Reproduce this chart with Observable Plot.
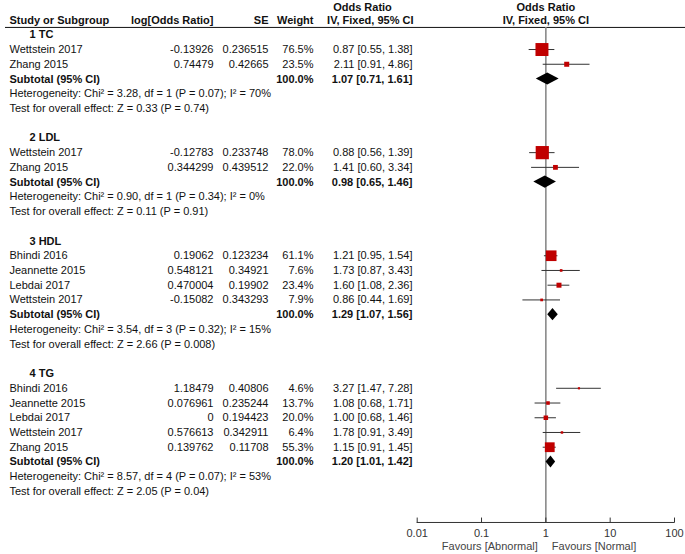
<!DOCTYPE html>
<html><head><meta charset="utf-8">
<script src="https://cdn.jsdelivr.net/npm/d3@7"></script>
<script src="https://cdn.jsdelivr.net/npm/@observablehq/plot@0.6"></script>
<style>body{margin:0;background:#fff}</style>
</head><body><div id="chart"></div>
<script>
// ---- data ----
const subgroups = ["1 TC", "2 LDL", "3 HDL", "4 TG"];
const studyGroup = [0, 0, 1, 1, 2, 2, 2, 2, 3, 3, 3, 3, 3];
const studyName = ["Wettstein 2017", "Zhang 2015", "Wettstein 2017", "Zhang 2015",
  "Bhindi 2016", "Jeannette 2015", "Lebdai 2017", "Wettstein 2017",
  "Bhindi 2016", "Jeannette 2015", "Lebdai 2017", "Wettstein 2017", "Zhang 2015"];
const logOR = ["-0.13926", "0.74479", "-0.12783", "0.344299", "0.19062", "0.548121", "0.470004",
  "-0.15082", "1.18479", "0.076961", "0", "0.576613", "0.139762"];
const seText = ["0.236515", "0.42665", "0.233748", "0.439512", "0.123234", "0.34921", "0.19902",
  "0.343293", "0.40806", "0.235244", "0.194423", "0.342911", "0.11708"];
const weight = [76.5, 23.5, 78.0, 22.0, 61.1, 7.6, 23.4, 7.9, 4.6, 13.7, 20.0, 6.4, 55.3];
const oddsRatio = [0.87, 2.11, 0.88, 1.41, 1.21, 1.73, 1.60, 0.86, 3.27, 1.08, 1.00, 1.78, 1.15];
const ciLow = [0.55, 0.91, 0.56, 0.60, 0.95, 0.87, 1.08, 0.44, 1.47, 0.68, 0.68, 0.91, 0.91];
const ciHigh = [1.38, 4.86, 1.39, 3.34, 1.54, 3.43, 2.36, 1.69, 7.28, 1.71, 1.46, 3.49, 1.45];
const subOR = [1.07, 0.98, 1.29, 1.20];
const subLow = [0.71, 0.65, 1.07, 1.01];
const subHigh = [1.61, 1.46, 1.56, 1.42];
const hetText = [
  "Heterogeneity: Chi² = 3.28, df = 1 (P = 0.07); I² = 70%",
  "Heterogeneity: Chi² = 0.90, df = 1 (P = 0.34); I² = 0%",
  "Heterogeneity: Chi² = 3.54, df = 3 (P = 0.32); I² = 15%",
  "Heterogeneity: Chi² = 8.57, df = 4 (P = 0.07); I² = 53%"];
const testText = [
  "Test for overall effect: Z = 0.33 (P = 0.74)",
  "Test for overall effect: Z = 0.11 (P = 0.91)",
  "Test for overall effect: Z = 2.66 (P = 0.008)",
  "Test for overall effect: Z = 2.05 (P = 0.04)"];
const xTicks = [0.01, 0.1, 1, 10, 100];
const favours = ["Favours [Abnormal]", "Favours [Normal]"];

// ---- row layout ----
const fmt2 = d => d.toFixed(2);
const ciStr = (o, l, h) => `${fmt2(o)} [${fmt2(l)}, ${fmt2(h)}]`;
const headings = [], studies = [], subtotals = [], notes = [];
let row = 0;
subgroups.forEach((g, gi) => {
  headings.push({label: g, row: row++});
  studyName.forEach((n, i) => {
    if (studyGroup[i] !== gi) return;
    studies.push({name: n, logOR: logOR[i], se: seText[i], w: weight[i],
      wText: weight[i].toFixed(1) + "%", or: oddsRatio[i], lo: ciLow[i], hi: ciHigh[i],
      ci: ciStr(oddsRatio[i], ciLow[i], ciHigh[i]), row: row++});
  });
  subtotals.push({g: gi, or: subOR[gi], lo: subLow[gi], hi: subHigh[gi],
    ci: ciStr(subOR[gi], subLow[gi], subHigh[gi]), row: row++});
  notes.push({text: hetText[gi], row: row++});
  notes.push({text: testText[gi], row: row++});
  row++;
});
const lastRow = row - 2;
const axisRow = 33.11;
const hdrTop = -1.87, hdrBot = -0.97, hdrLine = -0.5;
const dh = 0.41;
const diamonds = subtotals.flatMap(s => [
  {g: s.g, y: s.row - dh, x1: s.or, x2: s.or},
  {g: s.g, y: s.row, x1: s.lo, x2: s.hi},
  {g: s.g, y: s.row + dh, x1: s.or, x2: s.or}]);

const ML = 5;
const col = px => px - ML;
const txt = {fontSize: 11, fill: "#111", frameAnchor: "left"};
const bold = {...txt, fontWeight: "bold"};

const chart = Plot.plot({
  width: 685, height: 554,
  marginLeft: ML, marginRight: 0, marginTop: 0, marginBottom: 32,
  style: {fontFamily: "'Liberation Sans', Arial, sans-serif", fontSize: "11px", background: "#fff"},
  x: {type: "log", domain: [0.01, 100], range: [416.7, 674], axis: null},
  y: {domain: [0, lastRow], range: [34.3, 490.9], axis: null},
  marks: [
    // header
    Plot.text(["Odds Ratio"], {...bold, y: hdrTop, dx: col(362), textAnchor: "middle"}),
    Plot.text(["Study or Subgroup"], {...bold, y: hdrBot, dx: col(9), textAnchor: "start"}),
    Plot.text(["log[Odds Ratio]"], {...bold, y: hdrBot, dx: col(213), textAnchor: "end"}),
    Plot.text(["SE"], {...bold, y: hdrBot, dx: col(268), textAnchor: "end"}),
    Plot.text(["Weight"], {...bold, y: hdrBot, dx: col(313), textAnchor: "end"}),
    Plot.text(["IV, Fixed, 95% CI"], {...bold, y: hdrBot, dx: col(413), textAnchor: "end"}),
    Plot.text(["Odds Ratio"], {fontSize: 11, fontWeight: "bold", fill: "#111", x: 1, y: hdrTop, textAnchor: "middle"}),
    Plot.text(["IV, Fixed, 95% CI"], {fontSize: 11, fontWeight: "bold", fill: "#111", x: 1, y: hdrBot, textAnchor: "middle"}),
    Plot.ruleY([hdrLine], {stroke: "#111", strokeWidth: 1}),
    // subgroup headings
    Plot.text(headings, {...bold, y: "row", text: "label", dx: col(29), textAnchor: "start"}),
    // study rows
    Plot.text(studies, {...txt, y: "row", text: "name", dx: col(9), textAnchor: "start"}),
    Plot.text(studies, {...txt, y: "row", text: "logOR", dx: col(213), textAnchor: "end"}),
    Plot.text(studies, {...txt, y: "row", text: "se", dx: col(268), textAnchor: "end"}),
    Plot.text(studies, {...txt, y: "row", text: "wText", dx: col(313), textAnchor: "end"}),
    Plot.text(studies, {...txt, y: "row", text: "ci", dx: col(412), textAnchor: "end"}),
    // subtotals
    Plot.text(subtotals, {...bold, y: "row", text: () => "Subtotal (95% CI)", dx: col(9), textAnchor: "start"}),
    Plot.text(subtotals, {...bold, y: "row", text: () => "100.0%", dx: col(313), textAnchor: "end"}),
    Plot.text(subtotals, {...bold, y: "row", text: "ci", dx: col(412), textAnchor: "end"}),
    // notes
    Plot.text(notes, {...txt, y: "row", text: "text", dx: col(9), textAnchor: "start"}),
    // forest plot
    Plot.ruleX([1], {y1: hdrLine, y2: axisRow, stroke: "#8a8a8a", strokeWidth: 1.6}),
    Plot.ruleY(studies, {y: "row", x1: "lo", x2: "hi", stroke: "#333", strokeWidth: 1}),
    Plot.dot(studies, {x: "or", y: "row", r: "w", symbol: "square", fill: "#c00000", stroke: null}),
    Plot.areaX(diamonds, {y: "y", x1: "x1", x2: "x2", z: "g", fill: "#000", curve: "linear"}),
    // axis
    Plot.ruleY([axisRow], {x1: 0.01, x2: 100, stroke: "#333", strokeWidth: 1}),
    Plot.ruleX(xTicks, {x: d => d, y1: axisRow - 0.3, y2: axisRow + 0.05, stroke: "#333", strokeWidth: 1}),
    Plot.axisX({anchor: "bottom", ticks: xTicks, tickSize: 0, tickPadding: 7, tickFormat: d => String(d), fontSize: 11, fill: "#333"}),
    Plot.text([favours[0]], {x: 1, frameAnchor: "bottom", dy: 27, dx: -8, textAnchor: "end", fontSize: 11, fill: "#444"}),
    Plot.text([favours[1]], {x: 1, frameAnchor: "bottom", dy: 27, dx: 6, textAnchor: "start", fontSize: 11, fill: "#444"})
  ],
  r: {type: "linear", domain: [0, 100], range: [0.846, 9.31]}
});
document.getElementById("chart").appendChild(chart);
</script>
</body></html>
